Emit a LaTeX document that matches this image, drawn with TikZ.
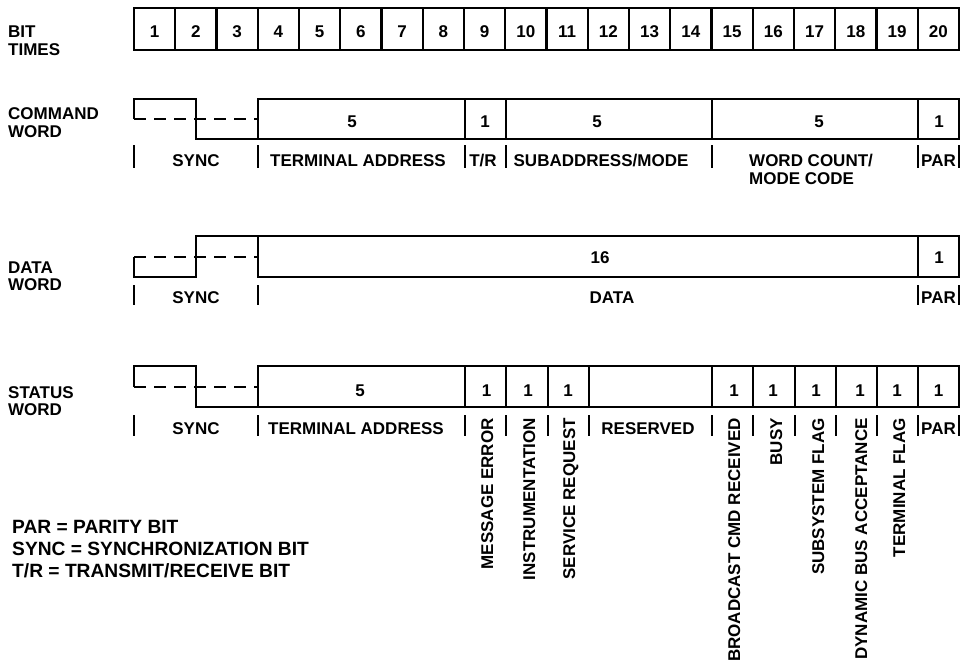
\documentclass[tikz,border=0pt]{standalone}
\usepackage{fontspec}
\setmainfont{Liberation Sans}
\begin{document}
\begin{tikzpicture}[x=1pt,y=-1pt,
  frame/.style={line width=2.2pt, line join=miter},
  dashln/.style={line width=2.2pt, dash pattern=on 12pt off 8pt},
  tickln/.style={line width=2.2pt},
  txt/.style={inner sep=0pt, font=\fontsize{17}{19}\selectfont\bfseries},
  num/.style={txt, anchor=base},
  lbl/.style={txt, anchor=base},
  rowlbl/.style={txt, anchor=base west},
  vlbl/.style={txt, rotate=90, anchor=east, text height=12pt, text depth=0pt},
  legend/.style={inner sep=0pt, anchor=base west, font=\fontsize{19.2}{22}\selectfont\bfseries}]
\useasboundingbox (0,0) rectangle (960,662);

% ---------- BIT TIMES ----------
\node[rowlbl] (rBit1) at (8,37.5) {BIT};
\node[rowlbl] (rBit2) at (8,55) {TIMES};
\foreach \i in {1,...,20} {
  \draw[frame] ({134+(\i-1)*41.25},8) rectangle ++(41.25,42);
  \node[num] (bt\i) at ({134+(\i-0.5)*41.25},37.5) {\i};
}

% ---------- COMMAND WORD ----------
\node[rowlbl] (rCmd1) at (8,119) {COMMAND};
\node[rowlbl] (rCmd2) at (8,137) {WORD};
\draw[frame] (134,119) -- (134,99) -- (196,99) -- (196,139) -- (258,139);
\draw[dashln] (134,119) -- (258,119);
\draw[frame] (258,99) rectangle (959,139);
\foreach \x in {465,506,712,918} \draw[frame] (\x,99) -- (\x,139);
\node[num] (c1) at (352,127) {5};
\node[num] (c2) at (485,127) {1};
\node[num] (c3) at (597,127) {5};
\node[num] (c4) at (819,127) {5};
\node[num] (c5) at (939,127) {1};
\foreach \x in {134,258,465,506,712,918,959} \draw[tickln] (\x,145) -- (\x,168);
\node[lbl] (cl1) at (196,166) {SYNC};
\node[lbl] (cl2) at (358,166) {TERMINAL ADDRESS};
\node[lbl] (cl3) at (483,166) {T/R};
\node[lbl] (cl4) at (601,166) {SUBADDRESS/MODE};
\node[txt, anchor=base west] (cl5) at (749,166) {WORD COUNT/};
\node[txt, anchor=base west] (cl6) at (749,184) {MODE CODE};
\node[lbl] (cl7) at (938.5,166) {PAR};

% ---------- DATA WORD ----------
\node[rowlbl] (rDat1) at (8,273) {DATA};
\node[rowlbl] (rDat2) at (8,290) {WORD};
\draw[frame] (134,257) -- (134,277) -- (196,277) -- (196,236) -- (258,236);
\draw[dashln] (134,257) -- (258,257);
\draw[frame] (258,236) rectangle (959,277);
\draw[frame] (918,236) -- (918,277);
\node[num] (d1) at (600,263) {16};
\node[num] (d2) at (939,263) {1};
\foreach \x in {134,258,918,959} \draw[tickln] (\x,285) -- (\x,305);
\node[lbl] (dl1) at (196,303) {SYNC};
\node[lbl] (dl2) at (612,303) {DATA};
\node[lbl] (dl3) at (938.5,303) {PAR};

% ---------- STATUS WORD ----------
\node[rowlbl] (rSt1) at (8,398) {STATUS};
\node[rowlbl] (rSt2) at (8,415) {WORD};
\draw[frame] (134,387) -- (134,366) -- (196,366) -- (196,407) -- (258,407);
\draw[dashln] (134,387) -- (258,387);
\draw[frame] (258,366) rectangle (959,407);
\foreach \x in {465,506,548,589,712,753,795,836,877,918} \draw[frame] (\x,366) -- (\x,407);
\node[num] (s1) at (360,396) {5};
\foreach \x/\n in {486.5/2,528/3,568/4,734/5,773/6,816/7,860/8,897/9,938.5/10}
  \node[num] (s\n) at (\x,396) {1};
\foreach \x in {134,258,465,506,548,589,712,753,795,836,877,918,959} \draw[tickln] (\x,415) -- (\x,436);
\node[lbl] (sl1) at (196,434) {SYNC};
\node[lbl] (sl2) at (356,434) {TERMINAL ADDRESS};
\node[lbl] (sl3) at (648,434) {RESERVED};
\node[lbl] (sl4) at (938.5,434) {PAR};
\node[vlbl] (v1) at (487,418) {MESSAGE ERROR};
\node[vlbl] (v2) at (529,418) {INSTRUMENTATION};
\node[vlbl] (v3) at (569,418) {SERVICE REQUEST};
\node[vlbl] (v4) at (734,418) {BROADCAST CMD RECEIVED};
\node[vlbl] (v5) at (776,418) {BUSY};
\node[vlbl] (v6) at (818,418) {SUBSYSTEM FLAG};
\node[vlbl] (v7) at (861,418) {DYNAMIC BUS ACCEPTANCE};
\node[vlbl] (v8) at (899,418) {TERMINAL FLAG};

% ---------- LEGEND ----------
\node[legend] (lg1) at (12,533) {PAR = PARITY BIT};
\node[legend] (lg2) at (12,555) {SYNC = SYNCHRONIZATION BIT};
\node[legend] (lg3) at (12,577) {T/R = TRANSMIT/RECEIVE BIT};
\end{tikzpicture}
\end{document}
